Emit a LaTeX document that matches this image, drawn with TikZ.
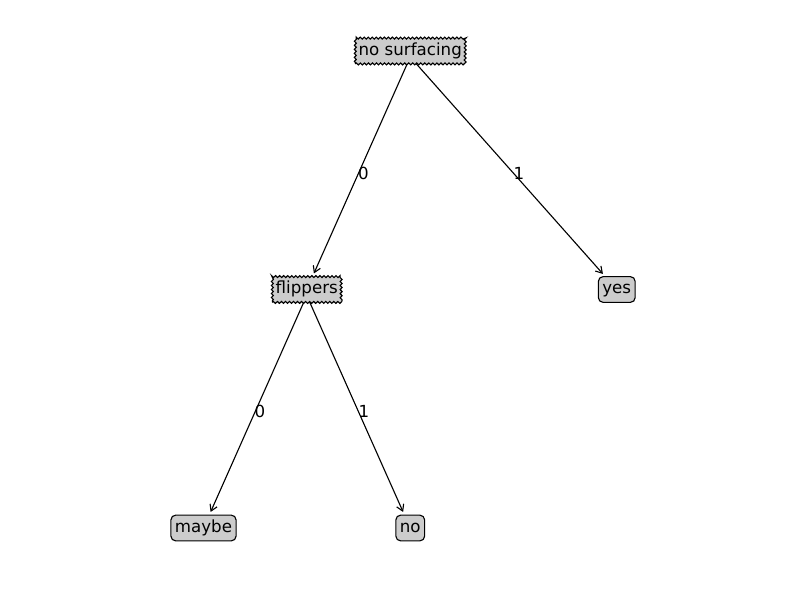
\documentclass[tikz,border=0pt]{standalone}
\usepackage{fontspec}
\setmainfont{DejaVu Sans}
\usetikzlibrary{arrows.meta,decorations.pathmorphing,backgrounds}
\definecolor{boxgray}{gray}{0.8}
\begin{document}
\begin{tikzpicture}[x=0.72pt,y=-0.72pt,
  font=\fontsize{12}{14}\selectfont,
  box/.style={fill=boxgray, draw=black, line width=0.8pt, text height=9pt, text depth=2.8pt, inner xsep=2.9pt, inner ysep=3.4pt},
  leaf/.style={box, rounded corners=3.5pt},
  decision/.style={box, inner xsep=2.4pt, decorate, decoration={zigzag, segment length=2.9pt, amplitude=0.7pt}},
  edge/.style={-{Straight Barb[length=4.5pt,width=5.5pt]}, line width=0.8pt, shorten >=2pt},
  lbl/.style={inner sep=0pt}]
\useasboundingbox (0,0) rectangle (800,596);
\node[decision] (ns) at (410.25,51) {no surfacing};
\node[decision] (fl) at (306.75,289.5) {flippers};
\node[leaf] (yes) at (616.75,289.5) {yes};
\node[leaf] (maybe) at (203.5,528) {maybe};
\node[leaf] (no) at (410.25,528) {no};
\coordinate (nsb) at (410.25,57);
\coordinate (flb) at (306.75,295.5);
\begin{pgfonlayer}{background}
\draw[edge] (nsb) -- (fl);
\draw[edge] (nsb) -- (yes);
\draw[edge] (flb) -- (maybe);
\draw[edge] (flb) -- (no);
\end{pgfonlayer}
\node[lbl] (l1) at (363.5,173) {0};
\node[lbl] (l2) at (519,173) {1};
\node[lbl] (l3) at (260,411) {0};
\node[lbl] (l4) at (364,411) {1};
\end{tikzpicture}
\end{document}
